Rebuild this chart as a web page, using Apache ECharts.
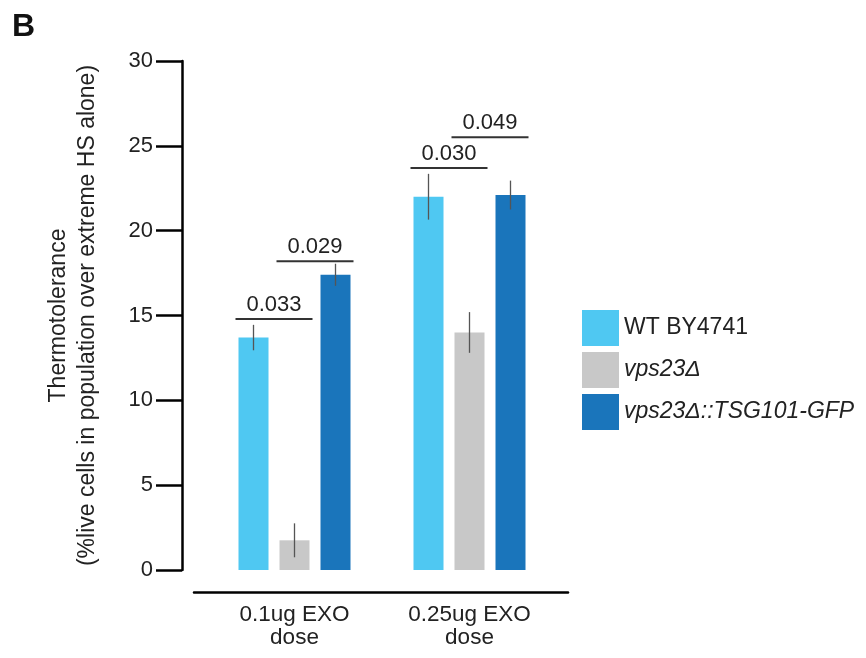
<!DOCTYPE html>
<html>
<head>
<meta charset="utf-8">
<script src="https://cdn.jsdelivr.net/npm/echarts@6/dist/echarts.min.js"></script>
<style>html,body{margin:0;padding:0;background:#fff;}#c{width:866px;height:658px;}</style>
</head>
<body>
<div id="c"></div>
<script>
// ---- data ----
const categories = ['0.1ug EXO\ndose', '0.25ug EXO\ndose'];
const seriesNames = ['WT BY4741', 'vps23Δ', 'vps23Δ::TSG101-GFP'];
const italicNames = [false, true, true];
const wtMean = [13.7, 22.0];
const wtErr = [0.75, 1.35];
const vpsMean = [1.75, 14.0];
const vpsErr = [1.0, 1.2];
const tsgMean = [17.4, 22.1];
const tsgErr = [0.65, 0.85];
const yTicks = [0, 5, 10, 15, 20, 25, 30];
const bracketLabels = ['0.033', '0.029', '0.030', '0.049'];
const bracketCat = [0, 0, 1, 1];
const bracketY = [14.8, 18.2, 23.7, 25.5];
const bracketFrom = [0, 1, 0, 1];
const bracketTo = [1, 2, 1, 2];

// ---- styles ----
const colors = ['#4fc8f2', '#c8c8c8', '#1a75bb'];
const FONT = 'Liberation Sans, Arial, sans-serif';
const BAR_W = 30;
const BAR_GAP = 11;
const means = [wtMean, vpsMean, tsgMean];
const errs = [wtErr, vpsErr, tsgErr];

function barOffset(i) { return (i - 1) * (BAR_W + BAR_GAP); }

const series = [];
seriesNames.forEach((name, i) => {
  series.push({
    name: name, type: 'bar', xAxisIndex: 0, yAxisIndex: 0,
    barWidth: BAR_W, barGap: (BAR_GAP / BAR_W * 100) + '%',
    itemStyle: { color: colors[i] },
    data: means[i], z: 2
  });
});
seriesNames.forEach((name, i) => {
  series.push({
    type: 'custom', xAxisIndex: 0, yAxisIndex: 0, z: 5,
    data: means[i].map((m, k) => [k, m, errs[i][k]]),
    renderItem: function (params, api) {
      const c = api.value(0), m = api.value(1), e = api.value(2);
      const top = api.coord([c, m + e]);
      const bot = api.coord([c, m - e]);
      const x = top[0] + barOffset(i);
      return { type: 'line', shape: { x1: x, y1: top[1], x2: x, y2: bot[1] },
        style: { stroke: '#555', lineWidth: 1.3 } };
    }
  });
});
series.push({
  type: 'custom', xAxisIndex: 0, yAxisIndex: 0, z: 6,
  data: bracketLabels.map((l, k) => [bracketCat[k], bracketY[k], bracketFrom[k], bracketTo[k], l]),
  renderItem: function (params, api) {
    const c = api.value(0), y = api.value(1), f = api.value(2), t = api.value(3);
    const p = api.coord([c, y]);
    const x1 = p[0] + barOffset(f) - BAR_W / 2 - 3;
    const x2 = p[0] + barOffset(t) + BAR_W / 2 + 3;
    return { type: 'group', children: [
      { type: 'line', shape: { x1: x1, y1: p[1], x2: x2, y2: p[1] }, style: { stroke: '#333', lineWidth: 2 } },
      { type: 'text', style: { text: bracketLabels[params.dataIndex], x: (x1 + x2) / 2, y: p[1] - 3,
        align: 'center', verticalAlign: 'bottom', fontSize: 22, fontFamily: FONT, fill: '#222' } }
    ] };
  }
});

const chart = echarts.init(document.getElementById('c'));
chart.setOption({
  animation: false,
  backgroundColor: '#fff',
  title: { text: 'B', left: 7, top: 6, textStyle: { fontSize: 32, fontWeight: 'bold', fontFamily: FONT, color: '#111' } },
  legend: {
    orient: 'vertical', left: 582, top: 310, padding: 0, itemWidth: 37, itemHeight: 36, itemGap: 6,
    icon: 'rect', data: seriesNames,
    formatter: function (name) { return italicNames[seriesNames.indexOf(name)] ? '{i|' + name + '}' : '{n|' + name + '}'; },
    textStyle: { fontSize: 23, fontFamily: FONT, color: '#222',
      rich: { i: { fontSize: 23, fontStyle: 'italic', fontFamily: FONT, color: '#222' },
              n: { fontSize: 23, fontFamily: FONT, color: '#222' } } }
  },
  grid: [
    { left: 207, right: 309, top: 61, bottom: 88 },
    { left: 194, right: 298, top: 61, bottom: 88 }
  ],
  xAxis: [
    { type: 'category', gridIndex: 0, data: categories, offset: 22,
      axisLine: { show: false }, axisTick: { show: false },
      axisLabel: { fontSize: 22.5, lineHeight: 23, margin: 11, fontFamily: FONT, color: '#222' } },
    { type: 'value', gridIndex: 1, min: 0, max: 1, offset: 22, position: 'bottom',
      axisLine: { show: true, onZero: false, lineStyle: { color: '#000', width: 2.5 } },
      axisTick: { show: false }, axisLabel: { show: false }, splitLine: { show: false } }
  ],
  yAxis: [
    { type: 'value', gridIndex: 0, min: yTicks[0], max: yTicks[yTicks.length - 1], interval: 5, offset: 25,
      name: 'Thermotolerance\n(%live cells in population over extreme HS alone)',
      nameLocation: 'middle', nameRotate: 90, nameGap: 80,
      nameTextStyle: { fontSize: 23, lineHeight: 29, fontFamily: FONT, color: '#222' },
      axisLine: { show: true, lineStyle: { color: '#000', width: 2.5 } },
      axisTick: { show: true, length: 26, lineStyle: { color: '#000', width: 2.5 } },
      axisLabel: { fontSize: 22, margin: 29, fontFamily: FONT, color: '#222' },
      splitLine: { show: false } },
    { type: 'value', gridIndex: 1, show: false, min: 0, max: 30 }
  ],
  series: series
});
</script>
</body>
</html>
